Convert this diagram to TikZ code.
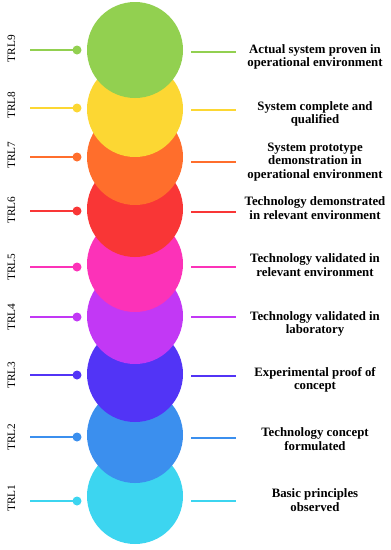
\documentclass[tikz,border=0pt]{standalone}
\usepackage{fontspec}
\setmainfont{Liberation Serif}
\definecolor{c9}{HTML}{92D050}
\definecolor{c8}{HTML}{FCD733}
\definecolor{c7}{HTML}{FF6E2C}
\definecolor{c6}{HTML}{F93636}
\definecolor{c5}{HTML}{FC32B8}
\definecolor{c4}{HTML}{C238F5}
\definecolor{c3}{HTML}{5234F6}
\definecolor{c2}{HTML}{3B8FEE}
\definecolor{c1}{HTML}{3CD5F0}
\begin{document}
\begin{tikzpicture}[x=1pt,y=-1pt,
  disc/.style={circle,minimum size=96pt,inner sep=0pt,fill=#1},
  pin/.style={circle,minimum size=9pt,inner sep=0pt,fill=#1},
  lev/.style={rotate=90,font=\fontsize{11.3}{13}\selectfont,inner sep=0pt},
  desc/.style={align=center,font=\fontsize{12.8}{13.6}\selectfont\bfseries,inner sep=0pt},
  lnk/.style={line width=2pt,draw=#1}]
\useasboundingbox (0,0) rectangle (391,550);
\foreach \n/\cy/\ly/\tly/\ry/\ty/\txt in {
  1/496/501/498/501/500/{Basic principles\\observed},
  2/435/437/437/438/439/{Technology concept\\formulated},
  3/374/375/375/376/380/{Experimental proof of\\concept},
  4/316/317/317/317/324/{Technology validated in\\laboratory},
  5/264/267/267/267/265/{Technology validated in\\relevant environment},
  6/209/211/210/212/208/{Technology demonstrated\\in relevant environment},
  7/157/157/155/162/162/{System prototype\\demonstration in\\operational environment},
  8/109/108/105/110/114/{System complete and\\qualified},
  9/50/50/48.5/52/57/{Actual system proven in\\operational environment}}{
  \node[disc=c\n] (c\n) at (135,\cy) {};
  \coordinate (ls\n) at (30,\ly);
  \node[pin=c\n] (p\n) at (77,\ly) {};
  \draw[lnk=c\n] (ls\n) -- (p\n.center);
  \coordinate (ra\n) at (191,\ry);
  \coordinate (rb\n) at (236,\ry);
  \draw[lnk=c\n] (ra\n) -- (rb\n);
  \node[lev] (l\n) at (11.5,\tly) {TRL\n};
  \node[desc] (t\n) at (315,\ty) {\txt};
}
\end{tikzpicture}
\end{document}
